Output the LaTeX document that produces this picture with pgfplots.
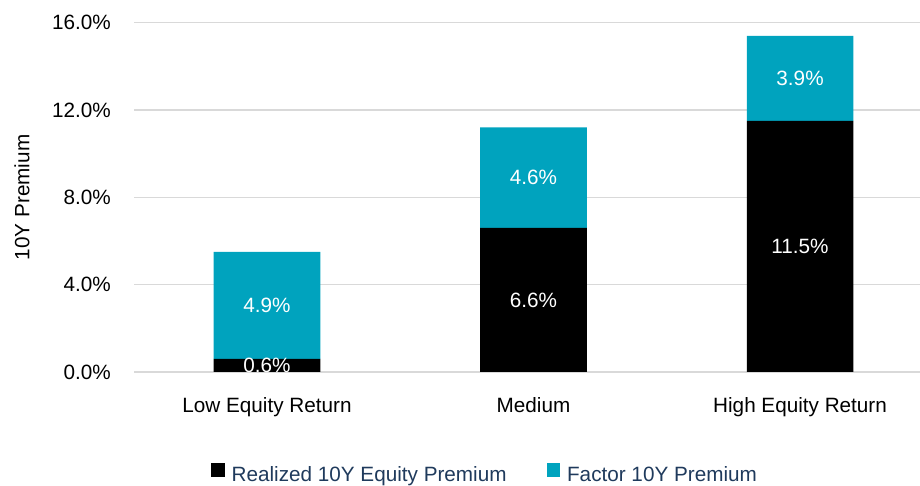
\documentclass[border=0pt]{standalone}
\usepackage{pgfplots}
\pgfplotsset{compat=1.18}
\usepackage{fontspec}
\setmainfont{Liberation Sans}
\definecolor{myteal}{HTML}{00A3BE}
\definecolor{gridc}{HTML}{D9D9D9}
\definecolor{navy}{HTML}{1F3A5C}
\begin{document}
\fontsize{20.7bp}{24bp}\selectfont
\begin{tikzpicture}
\useasboundingbox (0,0) rectangle (920bp,486bp);
\begin{axis}[
  at={(134bp,114bp)}, anchor=south west,
  scale only axis, width=786bp, height=349.3bp,
  /pgf/number format/assume math mode=true,
  ybar stacked, bar width=0.4,
  xmin=-0.499, xmax=2.45, ymin=0, ymax=16,
  xtick={0,1,2}, xticklabels={Low Equity Return, Medium, High Equity Return},
  ytick={0,4,8,12,16},
  yticklabel={\pgfmathprintnumber[fixed,fixed zerofill,precision=1,assume math mode=true]{\tick}\%},
  ymajorgrids, grid style={gridc, line width=1.3bp},
  axis line style={draw=none},
  major tick length=0pt,
  tick label style={font=\fontsize{20.7bp}{24bp}\selectfont, text=black},
  xticklabel style={anchor=base, yshift=-40bp, inner sep=0pt},
  yticklabel style={anchor=east, xshift=-23bp, inner sep=0pt},
  ylabel={10Y Premium},
  ylabel style={at={(axis description cs:-0.1425,0.5)}, anchor=center, font=\fontsize{20.7bp}{24bp}\selectfont},
  legend style={at={(axis description cs:0.4466,-0.295)}, anchor=center, draw=none, fill=none,
    legend columns=2, /tikz/every even column/.append style={column sep=38bp},
    /tikz/every odd column/.append style={column sep=5bp},
    font=\fontsize{20.7bp}{24bp}\selectfont, text=navy},
  legend image code/.code={\fill[#1,draw=none] (0bp,-1.3bp) rectangle (13.5bp,12.2bp);},
  nodes near coords={\pgfmathprintnumber[fixed,fixed zerofill,precision=1,assume math mode=true]{\pgfplotspointmeta}\%},
  every node near coord/.append style={anchor=center, text=white, font=\fontsize{20.7bp}{24bp}\selectfont},
]
\addplot[fill=black, draw=none] coordinates {(0,0.6) (1,6.6) (2,11.5)};
\addplot[fill=myteal, draw=none] coordinates {(0,4.9) (1,4.6) (2,3.9)};
\legend{Realized 10Y Equity Premium, Factor 10Y Premium}
\end{axis}
\end{tikzpicture}
\end{document}
